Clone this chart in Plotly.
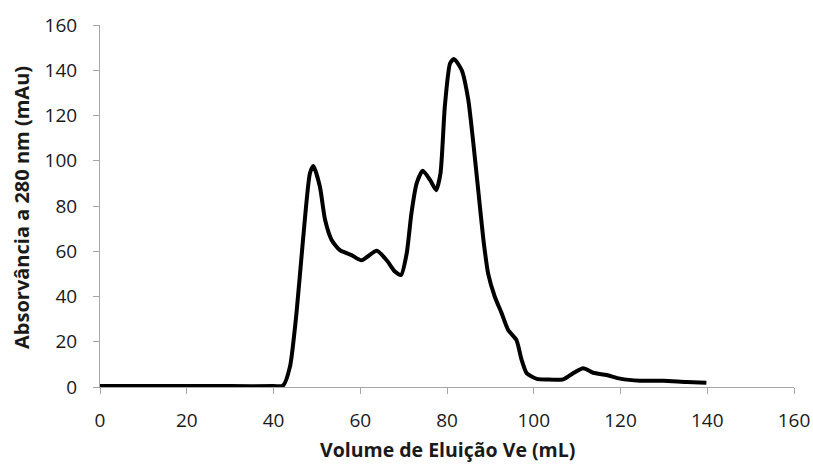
import plotly.graph_objects as go

# Elution profile: volume (mL) vs absorbance at 280 nm (mAu)
volume = [0, 10, 20, 30, 40, 42.2, 43.8, 45.3, 46.8, 48.4, 49.2, 50.7, 51.9, 53.4,
          55.3, 58.0, 60.3, 63.8, 66.1, 68.0, 69.4, 70.7, 71.8, 73.0, 74.4, 76.1,
          77.5, 78.5, 79.5, 80.7, 81.6, 83.4, 84.9, 86.0, 87.2, 88.4, 89.5, 91.0,
          92.6, 94.1, 96.0, 97.2, 98.4, 100.7, 103.0, 106.8, 109.0, 111.4, 113.7,
          116.8, 119.9, 124.5, 129.8, 135.2, 139.8]
absorbance = [0.4, 0.4, 0.4, 0.4, 0.4, 0.6, 9, 32.7, 65, 94.5, 97.7, 88.5, 73.8, 65,
              60.5, 58.3, 56, 60.2, 56, 51, 49.5, 59, 76.8, 90, 95.6, 91.5,
              87, 94.5, 124, 143, 145, 140, 127, 109, 87, 65, 50, 40,
              32.6, 25.2, 20.8, 12, 6, 3.6, 3.3, 3.4, 6, 8.3, 6.3,
              5.3, 3.7, 2.8, 2.8, 2.2, 1.9]

x_ticks = [0, 20, 40, 60, 80, 100, 120, 140, 160]
y_ticks = [0, 20, 40, 60, 80, 100, 120, 140, 160]

TEXT = "#1a1a1a"
AXIS = "#a6a6a6"

fig = go.Figure(go.Scatter(
    x=volume, y=absorbance, mode="lines",
    line=dict(color="black", width=4, shape="spline", smoothing=0.6),
    hoverinfo="x+y",
))

axis_common = dict(
    showgrid=False, zeroline=False, showline=True, linecolor=AXIS, linewidth=1,
    ticks="outside", ticklen=6, tickcolor=AXIS, automargin=False,
    tickfont=dict(family="Open Sans, sans-serif", size=19, color=TEXT),
)

fig.update_layout(
    width=813, height=465,
    margin=dict(l=100, r=19, t=25, b=78),
    paper_bgcolor="white", plot_bgcolor="white",
    showlegend=False,
    xaxis=dict(range=[0, 160], tickvals=x_ticks, ticklabelstandoff=10,
               **axis_common),
    yaxis=dict(range=[0, 160], tickvals=y_ticks, ticklabelstandoff=12,
               **axis_common),
    annotations=[
        dict(text="<b>Volume de Eluição Ve (mL)</b>", xref="paper", yref="paper",
             x=0.5, y=-0.172, xanchor="center", yanchor="middle", showarrow=False,
             font=dict(family="Open Sans, sans-serif", size=19.5, color=TEXT)),
        dict(text="<b>Absorvância a 280 nm (mAu)</b>", xref="paper", yref="paper",
             x=-0.114, y=0.497, xanchor="center", yanchor="middle", showarrow=False,
             textangle=-90,
             font=dict(family="Open Sans, sans-serif", size=20, color=TEXT)),
    ],
)

fig.write_html("out.html")
